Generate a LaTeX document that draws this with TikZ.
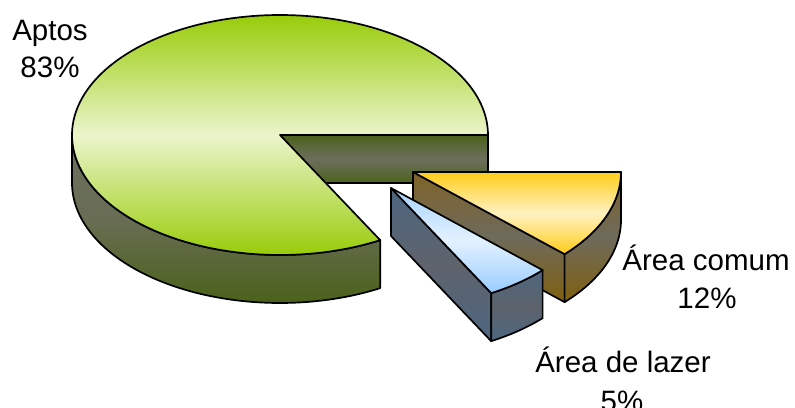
\documentclass[tikz,border=0pt]{standalone}
\usepackage{fontspec}
\setmainfont{Liberation Sans}
\definecolor{aptgreen}{HTML}{99CC0A}
\definecolor{aptlight}{HTML}{EBF5CC}
\definecolor{aptolive}{HTML}{4B621A}
\definecolor{aptgrey}{HTML}{6D6F5E}
\definecolor{yeltop}{HTML}{FFCC1A}
\definecolor{yellight}{HTML}{FFF2C2}
\definecolor{yelsidea}{HTML}{7F6328}
\definecolor{yelsidem}{HTML}{6E6A5B}
\definecolor{yelsideb}{HTML}{806010}
\definecolor{blutop}{HTML}{99CCFF}
\definecolor{blulight}{HTML}{E3F1FF}
\definecolor{bluside}{HTML}{4D6680}
\definecolor{blumid}{HTML}{5E636C}
\begin{document}
\begin{tikzpicture}[x=1pt,y=-1pt,line width=1.7pt,line join=round,
  face/.style={draw=black},
  apttop/.style={face,top color=aptgreen,bottom color=aptgreen,middle color=aptlight},
  aptside/.style={face,top color=aptgrey,bottom color=aptolive,middle color=aptgrey!85!aptolive},
  aptcut/.style={face,top color=aptolive,bottom color=aptolive,middle color=aptgrey},
  yeltopf/.style={face,top color=yeltop,bottom color=yeltop,middle color=yellight},
  yelsidef/.style={face,top color=yelsidea,bottom color=yelsideb,middle color=yelsidem},
  blutopf/.style={face,top color=blutop!85!white,bottom color=blutop,middle color=blulight},
  blusidef/.style={face,top color=bluside,bottom color=bluside,middle color=blumid},
  lbl/.style={font=\fontsize{29.5}{36}\selectfont,anchor=base,inner sep=0pt}]
\useasboundingbox (0,0) rectangle (795,407);
% ---------- Aptos (83%) ----------
\path[aptside] plot[domain=61.2:180,samples=70] ({280+208*cos(\x)},{135+120*sin(\x)})
  -- plot[domain=180:61.2,samples=70] ({280+208*cos(\x)},{183+120*sin(\x)}) -- cycle;
\path[aptcut] (280,135) rectangle (488,183);
\path[apttop] (280,135) -- plot[domain=61.2:360,samples=160] ({280+208*cos(\x)},{135+120*sin(\x)}) -- cycle;
% ---------- Area comum (12%) ----------
\path[yelsidef] (413,172) -- ({413+208*cos(43.2)},{172+120*sin(43.2)})
  -- ({413+208*cos(43.2)},{220+120*sin(43.2)}) -- (413,220) -- cycle;
\path[yelsidef] plot[domain=0:43.2,samples=40] ({413+208*cos(\x)},{172+120*sin(\x)})
  -- plot[domain=43.2:0,samples=40] ({413+208*cos(\x)},{220+120*sin(\x)}) -- cycle;
\path[yeltopf] (413,172) -- plot[domain=0:43.2,samples=40] ({413+208*cos(\x)},{172+120*sin(\x)}) -- cycle;
% ---------- Area de lazer (5%) ----------
\path[blusidef] (391,188) -- ({391+208*cos(61.2)},{188+120*sin(61.2)})
  -- ({391+208*cos(61.2)},{236+120*sin(61.2)}) -- (391,236) -- cycle;
\path[blusidef] plot[domain=43.2:61.2,samples=25] ({391+208*cos(\x)},{188+120*sin(\x)})
  -- plot[domain=61.2:43.2,samples=25] ({391+208*cos(\x)},{236+120*sin(\x)}) -- cycle;
\path[blutopf] (391,188) -- plot[domain=43.2:61.2,samples=25] ({391+208*cos(\x)},{188+120*sin(\x)}) -- cycle;
% ---------- labels ----------
\node[lbl] (aptosname) at (50,40) {Aptos};
\node[lbl] (aptospct) at (50,77.5) {83\%};
\node[lbl] (comumname) at (706,270) {Área comum};
\node[lbl] (comumpct) at (707,308) {12\%};
\node[lbl] (lazername) at (623,372) {Área de lazer};
\node[lbl] (lazerpct) at (622,411) {5\%};
\end{tikzpicture}
\end{document}
